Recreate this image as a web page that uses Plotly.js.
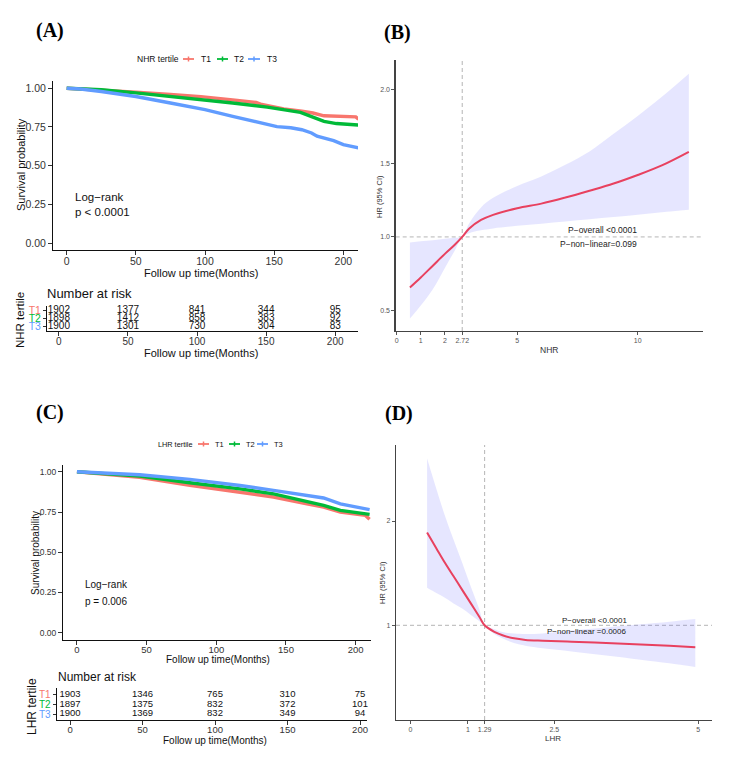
<!DOCTYPE html>
<html>
<head>
<meta charset="utf-8">
<script src="https://cdn.plot.ly/plotly-3.0.1.min.js"></script>
<style>html,body{margin:0;padding:0;background:#fff;}#chart{width:749px;height:781px;}</style>
</head>
<body>
<div id="chart"></div>
<script>
// ---------- DATA ----------
// Panel A: Kaplan-Meier by NHR tertile (months, survival probability)
const nhrT1Time = [0, 25, 50, 75, 97, 120, 137, 141, 157, 170, 178, 186, 200, 209, 211];
const nhrT1Surv = [1.0, 0.99, 0.975, 0.96, 0.946, 0.925, 0.908, 0.895, 0.866, 0.852, 0.84, 0.822, 0.818, 0.815, 0.80];
const nhrT2Time = [0, 25, 50, 75, 97, 120, 145, 160, 169, 178, 186, 195, 211];
const nhrT2Surv = [1.0, 0.99, 0.97, 0.948, 0.925, 0.905, 0.878, 0.858, 0.844, 0.814, 0.786, 0.772, 0.762];
const nhrT3Time = [0, 10, 25, 50, 75, 100, 120, 137, 145, 152, 162, 170, 177, 181, 193, 200, 211];
const nhrT3Surv = [1.0, 0.995, 0.979, 0.947, 0.905, 0.862, 0.818, 0.783, 0.765, 0.752, 0.745, 0.732, 0.711, 0.69, 0.662, 0.636, 0.615];

// Panel A: number at risk
const riskTimes = [0, 50, 100, 150, 200];
const nhrRiskT1 = [1902, 1377, 841, 344, 95];
const nhrRiskT2 = [1898, 1412, 858, 383, 92];
const nhrRiskT3 = [1900, 1301, 730, 304, 83];

// Panel B: restricted cubic spline, NHR
const nhrX  = [0.55, 1.0, 1.5, 2.0, 2.4, 2.72, 3.0, 3.5, 4.0, 5.0, 6.0, 7.0, 8.0, 9.0, 10.0, 11.0, 12.12];
const nhrHR = [0.657, 0.725, 0.805, 0.885, 0.945, 1.0, 1.055, 1.115, 1.15, 1.195, 1.226, 1.267, 1.313, 1.362, 1.42, 1.485, 1.577];
const nhrUp = [0.962, 0.97, 0.978, 0.987, 0.994, 1.0, 1.09, 1.20, 1.265, 1.345, 1.41, 1.49, 1.58, 1.70, 1.82, 1.95, 2.107];
const nhrLo = [0.446, 0.535, 0.645, 0.79, 0.905, 1.0, 1.025, 1.045, 1.058, 1.075, 1.09, 1.105, 1.12, 1.135, 1.15, 1.168, 1.185];

// Panel C: Kaplan-Meier by LHR tertile
const lhrT1Time = [0, 20, 45, 81, 117, 141, 165, 177, 189, 200, 207, 210];
const lhrT1Surv = [1.0, 0.985, 0.965, 0.916, 0.874, 0.843, 0.801, 0.781, 0.75, 0.735, 0.729, 0.705];
const lhrT2Time = [0, 20, 45, 81, 117, 141, 165, 177, 189, 207, 210];
const lhrT2Surv = [1.0, 0.988, 0.973, 0.932, 0.894, 0.863, 0.812, 0.791, 0.76, 0.739, 0.735];
const lhrT3Time = [0, 20, 45, 81, 117, 141, 165, 172, 177, 189, 207, 210];
const lhrT3Surv = [1.0, 0.99, 0.981, 0.953, 0.915, 0.884, 0.853, 0.848, 0.837, 0.801, 0.77, 0.765];

// Panel C: number at risk
const lhrRiskT1 = [1903, 1346, 765, 310, 75];
const lhrRiskT2 = [1897, 1375, 832, 372, 101];
const lhrRiskT3 = [1900, 1369, 832, 349, 94];

// Panel D: restricted cubic spline, LHR
const lhrX  = [0.29, 0.45, 0.6, 0.75, 0.9, 1.05, 1.2, 1.29, 1.45, 1.6, 1.8, 2.0, 2.3, 2.8, 3.4, 4.0, 4.5, 4.95];
const lhrHR = [1.89, 1.74, 1.60, 1.47, 1.34, 1.21, 1.08, 1.00, 0.94, 0.905, 0.875, 0.86, 0.852, 0.843, 0.830, 0.815, 0.803, 0.79];
const lhrUp = [2.60, 2.31, 2.05, 1.82, 1.60, 1.37, 1.15, 1.00, 0.965, 0.935, 0.922, 0.917, 0.922, 0.95, 0.98, 1.01, 1.035, 1.06];
const lhrLo = [1.36, 1.31, 1.265, 1.21, 1.16, 1.10, 1.04, 1.00, 0.92, 0.875, 0.83, 0.805, 0.78, 0.75, 0.71, 0.67, 0.635, 0.60];

const tertiles = ['T1', 'T2', 'T3'];
const nhrRef = 2.72, lhrRef = 1.29;

// ---------- STYLE / LAYOUT HELPERS ----------
const W = 749, H = 781;
const FONT = 'Liberation Sans, Arial, sans-serif';
const SERIF = 'Liberation Serif, Times New Roman, serif';
const cols = ['#F8766D', '#00BA38', '#619CFF'];
const curveCol = '#E8415F';
const bandCol = 'rgba(90,90,255,0.15)';
const domX = (a, b) => [a / W, b / W];
const domY = (top, bot) => [1 - bot / H, 1 - top / H];

function kmAxis(dom, range, tv, tt, size, extra) {
  return Object.assign({domain: dom, range: range, showline: true, linecolor: '#111', linewidth: 1,
    ticks: 'outside', ticklen: 4, tickcolor: '#333', tickwidth: 1, showgrid: false, zeroline: false,
    tickvals: tv, ticktext: tt, tickfont: {family: FONT, size: size, color: '#333'}, automargin: false,
    fixedrange: true}, extra || {});
}
function rcsAxis(dom, range, tv, tt, extra) {
  return Object.assign({domain: dom, range: range, showline: true, linecolor: '#444', linewidth: 1.3,
    ticks: 'outside', ticklen: 3, tickcolor: '#555', tickwidth: 1, showgrid: false, zeroline: false,
    tickvals: tv, ticktext: tt, tickfont: {family: FONT, size: 7, color: '#555'}, automargin: false,
    fixedrange: true}, extra || {});
}
function ann(text, x, y, size, o) {
  o = o || {};
  return {text: text, x: x / W, y: 1 - y / H, xref: 'paper', yref: 'paper', showarrow: false,
    xanchor: o.xa || 'center', yanchor: 'middle', textangle: o.angle || 0,
    font: {family: o.family || FONT, size: size, color: o.color || '#111'}};
}
function legendGlyph(x0, x1, y, col) {
  const xc = (x0 + x1) / 2;
  return [
    {type: 'line', xref: 'paper', yref: 'paper', x0: x0 / W, x1: x1 / W, y0: 1 - y / H, y1: 1 - y / H, line: {color: col, width: 1.8}},
    {type: 'line', xref: 'paper', yref: 'paper', x0: xc / W, x1: xc / W, y0: 1 - (y - 2.5) / H, y1: 1 - (y + 2.5) / H, line: {color: col, width: 1.5}}
  ];
}

// ---------- TRACES ----------
const traces = [];
[[nhrT1Time, nhrT1Surv], [nhrT2Time, nhrT2Surv], [nhrT3Time, nhrT3Surv]].forEach((s, i) => {
  traces.push({type: 'scatter', mode: 'lines', x: s[0], y: s[1], xaxis: 'x', yaxis: 'y',
    line: {color: cols[i], width: 3.4}, name: tertiles[i], showlegend: false, hoverinfo: 'skip'});
});
[nhrRiskT1, nhrRiskT2, nhrRiskT3].forEach((r, i) => {
  traces.push({type: 'scatter', mode: 'text', x: riskTimes, y: riskTimes.map(() => 3 - i),
    text: r.map(String), textposition: 'middle center', xaxis: 'x2', yaxis: 'y2', cliponaxis: false,
    textfont: {family: FONT, size: 10, color: '#111'}, showlegend: false, hoverinfo: 'skip'});
});
traces.push({type: 'scatter', mode: 'lines', x: nhrX, y: nhrLo, xaxis: 'x3', yaxis: 'y3',
  line: {width: 0, shape: 'spline'}, showlegend: false, hoverinfo: 'skip'});
traces.push({type: 'scatter', mode: 'lines', x: nhrX, y: nhrUp, xaxis: 'x3', yaxis: 'y3', fill: 'tonexty',
  fillcolor: bandCol, line: {width: 0, shape: 'spline'}, showlegend: false, hoverinfo: 'skip'});
traces.push({type: 'scatter', mode: 'lines', x: nhrX, y: nhrHR, xaxis: 'x3', yaxis: 'y3',
  line: {color: curveCol, width: 2, shape: 'spline'}, showlegend: false, hoverinfo: 'skip'});

[[lhrT1Time, lhrT1Surv], [lhrT2Time, lhrT2Surv], [lhrT3Time, lhrT3Surv]].forEach((s, i) => {
  traces.push({type: 'scatter', mode: 'lines', x: s[0], y: s[1], xaxis: 'x4', yaxis: 'y4',
    line: {color: cols[i], width: 3.4}, name: tertiles[i], showlegend: false, hoverinfo: 'skip'});
});
[lhrRiskT1, lhrRiskT2, lhrRiskT3].forEach((r, i) => {
  traces.push({type: 'scatter', mode: 'text', x: riskTimes, y: riskTimes.map(() => 3 - i),
    text: r.map(String), textposition: 'middle center', xaxis: 'x5', yaxis: 'y5', cliponaxis: false,
    textfont: {family: FONT, size: 9.5, color: '#111'}, showlegend: false, hoverinfo: 'skip'});
});
traces.push({type: 'scatter', mode: 'lines', x: lhrX, y: lhrLo, xaxis: 'x6', yaxis: 'y6',
  line: {width: 0, shape: 'spline'}, showlegend: false, hoverinfo: 'skip'});
traces.push({type: 'scatter', mode: 'lines', x: lhrX, y: lhrUp, xaxis: 'x6', yaxis: 'y6', fill: 'tonexty',
  fillcolor: bandCol, line: {width: 0, shape: 'spline'}, showlegend: false, hoverinfo: 'skip'});
traces.push({type: 'scatter', mode: 'lines', x: lhrX, y: lhrHR, xaxis: 'x6', yaxis: 'y6',
  line: {color: curveCol, width: 2, shape: 'spline'}, showlegend: false, hoverinfo: 'skip'});

// ---------- LAYOUT ----------
const riskTick = tertiles.map((t, i) => '<span style="color:' + cols[i] + '">' + t + '</span>');
const survTv = [0, 0.25, 0.5, 0.75, 1];
const survTt = ['0.00', '0.25', '0.50', '0.75', '1.00'];
const timeTt = riskTimes.map(String);

const dashed = {color: '#b5b5b5', width: 1, dash: '4px,3px'};
let shapes = [
  {type: 'line', xref: 'x3', yref: 'y3 domain', x0: nhrRef, x1: nhrRef, y0: 0, y1: 1, line: dashed, layer: 'below'},
  {type: 'line', xref: 'x3 domain', yref: 'y3', x0: 0, x1: 1, y0: 1, y1: 1, line: dashed, layer: 'below'},
  {type: 'line', xref: 'x6', yref: 'y6 domain', x0: lhrRef, x1: lhrRef, y0: 0, y1: 1, line: dashed, layer: 'below'},
  {type: 'line', xref: 'x6 domain', yref: 'y6', x0: 0, x1: 1, y0: 1, y1: 1, line: dashed, layer: 'below'}
];
shapes = shapes.concat(legendGlyph(183, 194, 59, cols[0]), legendGlyph(217, 228, 59, cols[1]), legendGlyph(248, 260, 59, cols[2]));
shapes = shapes.concat(legendGlyph(198, 209, 444, cols[0]), legendGlyph(229, 240, 444, cols[1]), legendGlyph(257, 268, 444, cols[2]));

const annotations = [
  ann('<b>(A)</b>', 49.5, 31, 20, {family: SERIF, color: '#000'}),
  ann('<b>(B)</b>', 397.5, 32, 20, {family: SERIF, color: '#000'}),
  ann('<b>(C)</b>', 49.5, 412, 20, {family: SERIF, color: '#000'}),
  ann('<b>(D)</b>', 398.5, 413, 20, {family: SERIF, color: '#000'}),
  // Panel A
  ann('NHR tertile', 135, 59, 8.5, {xa: 'left'}),
  ann('T1', 199, 59, 8.5, {xa: 'left'}), ann('T2', 232, 59, 8.5, {xa: 'left'}), ann('T3', 265, 59, 8.5, {xa: 'left'}),
  ann('Survival probability', 21, 165, 11, {angle: -90}),
  ann('Follow up time(Months)', 201, 273, 11),
  ann('Log\u2212rank', 73, 197, 11.5, {xa: 'left'}),
  ann('p < 0.0001', 73, 212, 11.5, {xa: 'left'}),
  ann('Number at risk', 45, 293, 13, {xa: 'left'}),
  ann('NHR tertile', 20, 320, 11.5, {angle: -90}),
  ann('Follow up time(Months)', 201, 353, 11),
  // Panel B
  ann('HR (95% CI)', 379, 196, 7.5, {angle: -90, color: '#333'}),
  ann('NHR', 549, 350, 8.5, {color: '#333'}),
  ann('P\u2212overall <0.0001', 602.7, 230, 8.5, {color: '#222'}),
  ann('P\u2212non\u2212linear=0.099', 598.3, 243.7, 8.5, {color: '#222'}),
  // Panel C
  ann('LHR tertile', 156, 444, 7.3, {xa: 'left'}),
  ann('T1', 213, 444, 7.5, {xa: 'left'}), ann('T2', 244, 444, 7.5, {xa: 'left'}), ann('T3', 272, 444, 7.5, {xa: 'left'}),
  ann('Survival probability', 35, 553, 10, {angle: -90}),
  ann('Follow up time(Months)', 218, 659, 10),
  ann('Log\u2212rank', 83, 584, 10, {xa: 'left'}),
  ann('p = 0.006', 83, 601, 10, {xa: 'left'}),
  ann('Number at risk', 56, 677, 12, {xa: 'left'}),
  ann('LHR tertile', 32, 707, 12, {angle: -90}),
  ann('Follow up time(Months)', 215, 740, 10),
  // Panel D
  ann('HR (95% CI)', 382, 583, 7.5, {angle: -90, color: '#333'}),
  ann('LHR', 553, 738, 8, {color: '#333'}),
  ann('P\u2212overall <0.0001', 594, 620, 8, {color: '#222'}),
  ann('P\u2212non\u2212linear =0.0006', 587, 631, 8, {color: '#222'})
];

const layout = {
  width: W, height: H, margin: {l: 0, r: 0, t: 0, b: 0}, paper_bgcolor: '#fff', plot_bgcolor: 'rgba(0,0,0,0)',
  showlegend: false, font: {family: FONT},
  xaxis: kmAxis(domX(53, 358), [-9.9, 210.6], riskTimes, timeTt, 10.5, {anchor: 'y', ticklabelstandoff: -3}),
  yaxis: kmAxis(domY(81, 250), [-0.045, 1.047], survTv, survTt, 10.5, {anchor: 'x'}),
  xaxis2: kmAxis(domX(47, 358), [-8.6, 216.5], riskTimes, timeTt, 10, {anchor: 'y2', ticklabelstandoff: -3}),
  yaxis2: kmAxis(domY(306, 331), [0.4, 3.6], [3, 2, 1], riskTick, 10.5, {anchor: 'x2', ticklen: 3}),
  xaxis3: rcsAxis(domX(395.7, 703.3), [-0.04, 12.72], [0, 1, 2, nhrRef, 5, 10], ['0', '1', '2', '2.72', '5', '10'], {anchor: 'y3', ticklabelstandoff: -1}),
  yaxis3: rcsAxis(domY(60, 331), [0.362, 2.20], [0.5, 1.0, 1.5, 2.0], ['0.5', '1.0', '1.5', '2.0'], {anchor: 'x3'}),
  xaxis4: kmAxis(domX(63, 371), [-10, 211], riskTimes, timeTt, 9.5, {anchor: 'y4', ticklabelstandoff: -3}),
  yaxis4: kmAxis(domY(465, 640), [-0.045, 1.042], survTv, survTt, 8.5, {anchor: 'x4'}),
  xaxis5: kmAxis(domX(56.7, 366.7), [-9.2, 204.6], riskTimes, timeTt, 9.5, {anchor: 'y5', ticklabelstandoff: -3}),
  yaxis5: kmAxis(domY(688.4, 720), [0.4, 3.6], [3, 2, 1], riskTick, 10, {anchor: 'x5', ticklen: 3}),
  xaxis6: rcsAxis(domX(396, 712), [-0.25, 5.24], [0, 1, lhrRef, 2.5, 5], ['0', '1', '1.29', '2.5', '5'], {anchor: 'y6', ticklabelstandoff: -1}),
  yaxis6: rcsAxis(domY(445, 720), [0.092, 2.729], [1, 2], ['1', '2'], {anchor: 'x6'}),
  shapes: shapes,
  annotations: annotations
};

Plotly.newPlot('chart', traces, layout, {displayModeBar: false, staticPlot: true});
</script>
</body>
</html>
